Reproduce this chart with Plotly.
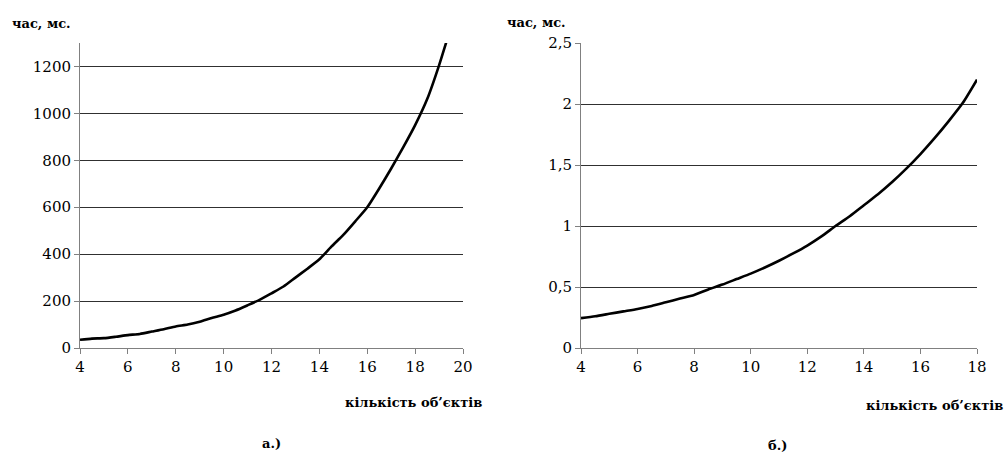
import plotly.graph_objects as go

# Left chart (а.)
x_a = [4, 4.5, 5, 5.5, 6, 6.5, 7, 7.5, 8, 8.5, 9, 9.5, 10, 10.5, 11, 11.5, 12, 12.5,
       13, 13.5, 14, 14.5, 15, 15.5, 16, 16.5, 17, 17.5, 18, 18.5, 19, 19.5]
y_a = [35, 40, 42, 48, 55, 60, 70, 80, 92, 100, 112, 128, 142, 160, 182, 205, 233, 262,
       300, 338, 378, 432, 482, 540, 600, 680, 765, 855, 950, 1060, 1205, 1370]

# Right chart (б.)
x_b = [4, 4.5, 5, 5.5, 6, 6.5, 7, 7.5, 8, 8.5, 9, 9.5, 10, 10.5, 11, 11.5, 12, 12.5,
       13, 13.5, 14, 14.5, 15, 15.5, 16, 16.5, 17, 17.5, 18]
y_b = [0.245, 0.26, 0.28, 0.30, 0.32, 0.345, 0.375, 0.405, 0.435, 0.48, 0.52, 0.565,
       0.61, 0.66, 0.715, 0.775, 0.84, 0.915, 1.0, 1.08, 1.17, 1.26, 1.36, 1.47, 1.59,
       1.72, 1.86, 2.01, 2.2]

ya_ticks = [0, 200, 400, 600, 800, 1000, 1200]
yb_ticks = [0, 0.5, 1, 1.5, 2, 2.5]
yb_labels = ["0", "0,5", "1", "1,5", "2", "2,5"]
xa_ticks = [4, 6, 8, 10, 12, 14, 16, 18, 20]
xb_ticks = [4, 6, 8, 10, 12, 14, 16, 18]

W, H = 1008, 453
FONT = "DejaVu Serif"


def px(v):
    return v / W


def py(v):
    return 1 - v / H


line_style = dict(color="black", width=2.6, shape="spline", smoothing=0.6)
fig = go.Figure()
fig.add_trace(go.Scatter(x=x_a, y=y_a, mode="lines", line=line_style,
                         xaxis="x", yaxis="y", showlegend=False, hoverinfo="skip"))
fig.add_trace(go.Scatter(x=x_b, y=y_b, mode="lines", line=line_style,
                         xaxis="x2", yaxis="y2", showlegend=False, hoverinfo="skip"))

axis_common = dict(showline=True, linecolor="#808080", linewidth=1, ticks="outside",
                   ticklen=5, tickcolor="#808080", zeroline=False, automargin=False,
                   tickfont=dict(family=FONT, size=15, color="black"))

fig.update_layout(
    width=W, height=H, margin=dict(l=0, r=0, t=0, b=0, autoexpand=False),
    paper_bgcolor="white", plot_bgcolor="white",
    font=dict(family=FONT),
    xaxis=dict(domain=[px(80), px(463)], range=[4, 20], tickvals=xa_ticks,
               showgrid=False, anchor="y", **axis_common),
    yaxis=dict(domain=[py(348), py(43)], range=[0, 1300], tickvals=ya_ticks,
               showgrid=True, gridcolor="#303030", gridwidth=1, anchor="x", **axis_common),
    xaxis2=dict(domain=[px(581), px(977)], range=[4, 18], tickvals=xb_ticks,
                showgrid=False, anchor="y2", **axis_common),
    yaxis2=dict(domain=[py(348), py(43)], range=[0, 2.5], tickvals=yb_ticks, ticktext=yb_labels,
                showgrid=True, gridcolor="#303030", gridwidth=1, anchor="x2", **axis_common),
)

bold = dict(family=FONT, size=13, color="black")
annos = [
    dict(text="<b>час, мс.</b>", x=px(10), y=py(23), xanchor="left"),
    dict(text="<b>кількість об’єктів</b>", x=px(484), y=py(402), xanchor="right"),
    dict(text="<b>а.)</b>", x=px(271), y=py(443), xanchor="center"),
    dict(text="<b>час, мс.</b>", x=px(505), y=py(22), xanchor="left"),
    dict(text="<b>кількість об’єктів</b>", x=px(1005), y=py(405), xanchor="right"),
    dict(text="<b>б.)</b>", x=px(777), y=py(445), xanchor="center"),
]
for a in annos:
    fig.add_annotation(xref="paper", yref="paper", yanchor="middle", showarrow=False,
                       font=bold, **a)

fig.write_html("out.html", config={"displayModeBar": False},
               post_script="document.body.style.margin='0';")
